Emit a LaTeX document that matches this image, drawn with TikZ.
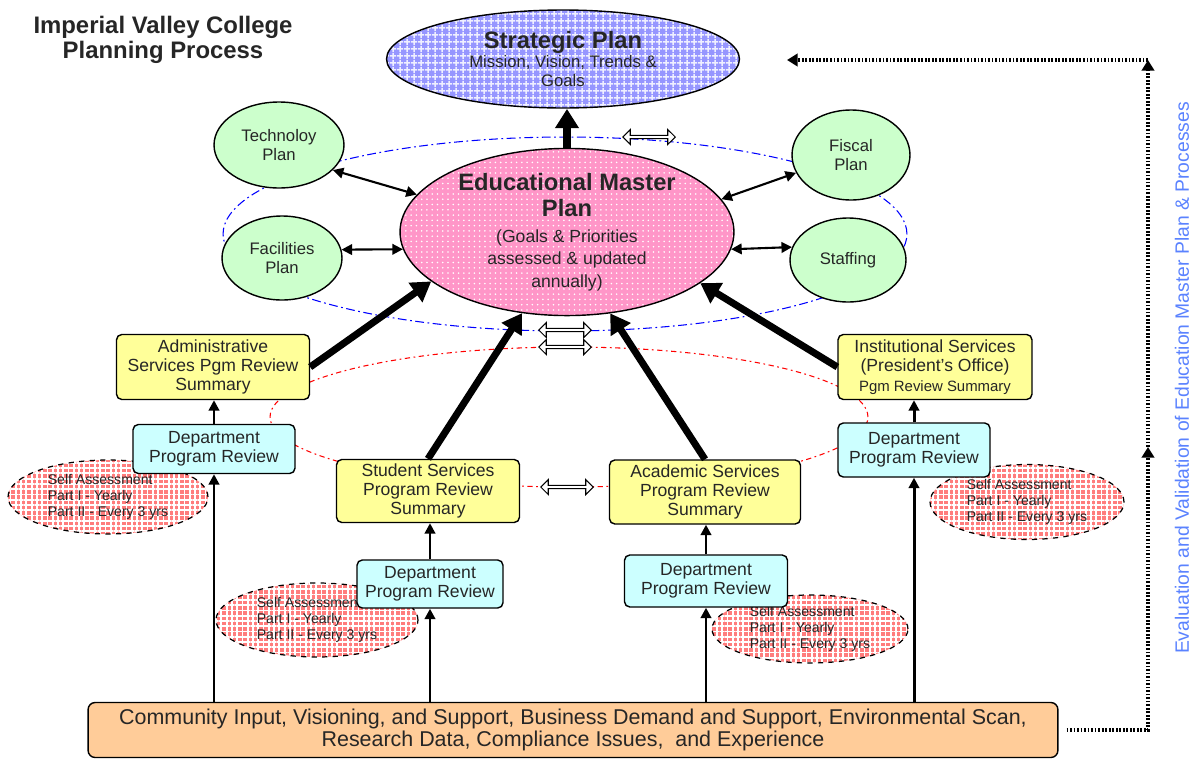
\documentclass[tikz,border=0pt]{standalone}
\usepackage{fontspec}
\setmainfont{Liberation Sans}
\usetikzlibrary{shapes.geometric,shapes.arrows,arrows.meta,patterns.meta}

\definecolor{stratblue}{RGB}{150,150,255}
\definecolor{masterpink}{RGB}{255,150,200}
\definecolor{plangreen}{RGB}{204,255,204}
\definecolor{sumyellow}{RGB}{255,255,153}
\definecolor{deptcyan}{RGB}{204,255,255}
\definecolor{selfred}{RGB}{255,125,125}
\definecolor{baseorange}{RGB}{255,204,153}
\definecolor{evalblue}{RGB}{90,130,255}

\newcommand{\fs}[2]{\fontsize{#1}{#2}\selectfont}

\begin{document}
\begin{tikzpicture}[x=0.02cm,y=-0.02cm,
  every node/.style={text=black!85},
  plan/.style={ellipse, draw, line width=0.8pt, fill=plangreen, inner sep=0pt, align=center, font=\fs{9.5}{10.5}},
  sumbox/.style={rectangle, rounded corners=3pt, draw, line width=0.8pt, fill=sumyellow, inner sep=0pt, align=center, font=\fs{10}{11}},
  deptbox/.style={sumbox, fill=deptcyan},
  selfassess/.style={ellipse, draw, dashed, line width=0.7pt, preaction={fill=selfred}, pattern={Hatch[angle=0,distance=3pt,line width=1pt]}, pattern color=white, inner sep=0pt, align=left, font=\fs{8}{9}},
  hollow/.style={double arrow, draw, fill=white, line width=0.6pt, minimum height=1.05cm, minimum width=0.3cm, double arrow head extend=0.04cm, inner sep=0pt},
  bigarrow/.style={line width=4pt, -{Triangle[length=11pt,width=13pt]}},
  link/.style={line width=1.2pt, {Triangle[length=6pt,width=6pt]}-{Triangle[length=6pt,width=6pt]}},
  feed/.style={line width=1.7pt, -{Triangle[length=6pt,width=6pt]}},
  fback/.style={line width=2pt, dash pattern=on 1pt off 1pt, -{Triangle[length=6pt,width=7pt]}}]

\useasboundingbox (0,0) rectangle (1191,758);

\draw[blue, line width=0.6pt, dash pattern=on 5pt off 2pt on 1pt off 2pt] (565,234) ellipse [x radius=6.84cm, y radius=1.94cm];
\draw[red, line width=0.6pt, dash pattern=on 3pt off 2pt on 1pt off 2pt] (569,417) ellipse [x radius=5.98cm, y radius=1.4cm];

\node[font=\fs{13.6}{14.2}\bfseries, align=center] (title) at (163,40) {Imperial Valley College\\Planning Process};

\node[ellipse, draw, line width=0.8pt, preaction={fill=stratblue}, pattern={Hatch[angle=0,distance=4pt,line width=1pt]}, pattern color=white!85!stratblue, minimum width=7.06cm, minimum height=1.96cm, inner sep=0pt, align=center, font=\fs{9.5}{11}] (strat) at (563,59) {{\fs{13.5}{15}\bfseries Strategic Plan}\\Mission, Vision, Trends \&\\Goals};

\node[ellipse, draw, line width=0.8pt, preaction={fill=masterpink}, pattern={Dots[distance=3pt,radius=0.5pt]}, pattern color=white, minimum width=6.68cm, minimum height=3.32cm, inner sep=0pt, align=center, font=\fs{10}{12.8}] (emp) at (567,232) {{\fs{13.5}{15}\bfseries Educational Master}\\[2.5pt]{\fs{13.5}{15}\bfseries Plan}\\[1.7pt](Goals \& Priorities\\assessed \& updated\\annually)};

\node[plan, minimum width=2.6cm, minimum height=1.72cm] (tech) at (279,145) {Technoloy\\Plan};
\node[plan, minimum width=2.4cm, minimum height=1.68cm] (fac) at (282,258) {Facilities\\Plan};
\node[plan, minimum width=2.36cm, minimum height=1.8cm] (fisc) at (851,155) {Fiscal\\Plan};
\node[plan, minimum width=2.32cm, minimum height=1.68cm] (staff) at (848,260) {Staffing};

\node[hollow] (hw1) at (649,137) {};
\node[hollow] (hw2) at (565,330) {};
\node[hollow] (hw3) at (565,347) {};
\node[hollow] (hw4) at (567,487) {};

\node[sumbox, minimum width=3.86cm, minimum height=1.3cm] (admin) at (213,367) {Administrative\\Services Pgm Review\\Summary};
\node[sumbox, minimum width=3.66cm, minimum height=1.26cm] (student) at (428,491) {Student Services\\Program Review\\Summary};
\node[sumbox, minimum width=3.82cm, minimum height=1.28cm] (academic) at (705,492) {Academic Services\\Program Review\\Summary};
\node[sumbox, minimum width=3.88cm, minimum height=1.3cm] (inst) at (935,367) {Institutional Services\\(President's Office)\\{\fs{8.5}{10}Pgm Review Summary}};

\node[selfassess, minimum width=4cm, minimum height=1.48cm] (sa1) at (108,497) {Self Assessment\\Part I - Yearly\\Part II - Every 3 yrs};
\node[selfassess, minimum width=4.04cm, minimum height=1.48cm] (sa2) at (317,620) {Self Assessment\\Part I - Yearly\\Part II - Every 3 yrs};
\node[selfassess, minimum width=3.92cm, minimum height=1.36cm] (sa3) at (810,629) {Self Assessment\\Part I - Yearly\\Part II - Every 3 yrs};
\node[selfassess, minimum width=3.88cm, minimum height=1.5cm] (sa4) at (1027,502) {Self Assessment\\Part I - Yearly\\Part II - Every 3 yrs};

\node[deptbox, minimum width=3.24cm, minimum height=0.98cm] (dept1) at (214,449) {Department\\Program Review};
\node[deptbox, minimum width=2.92cm, minimum height=0.96cm] (dept2) at (430,584) {Department\\Program Review};
\node[deptbox, minimum width=3.26cm, minimum height=1.04cm] (dept3) at (706,581) {Department\\Program Review};
\node[deptbox, minimum width=3.04cm, minimum height=1.08cm] (dept4) at (914,450) {Department\\Program Review};

\node[rectangle, rounded corners=4pt, draw, line width=0.8pt, fill=baseorange, minimum width=19.4cm, minimum height=1.1cm, inner sep=0pt, align=center, font=\fs{12.2}{13}] (base) at (573,730) {Community Input, Visioning, and Support, Business Demand and Support, Environmental Scan,\\Research Data, Compliance Issues,\ \ and Experience};

\node[rotate=90, text=evalblue, font=\fs{11}{12}] (evaltxt) at (1182,378) {Evaluation and Validation of Education Master Plan \& Processes};

\draw[bigarrow] (emp.north) -- (emp.north |- strat.south);
\draw[bigarrow] (admin.east) -- (emp.200);
\draw[bigarrow] (student.north) -- (emp.241);
\draw[bigarrow] (academic.north) -- (emp.298);
\draw[bigarrow] (inst.west) -- (emp.339);

\draw[link] (tech.335) -- (emp.166);
\draw[link] (fac.8) -- (emp.186);
\draw[link] (fisc.198) -- (emp.12);
\draw[link] (staff.167) -- (emp.354);

\draw[feed] (dept1.north) -- (dept1.north |- admin.south);
\draw[feed] (dept2.north) -- (dept2.north |- student.south);
\draw[feed] (dept3.north) -- (dept3.north |- academic.south);
\draw[feed] (dept4.north) -- (dept4.north |- inst.south);

\draw[feed] (dept1.south |- base.north) -- (dept1.south);
\draw[feed] (dept2.south |- base.north) -- (dept2.south);
\draw[feed] (dept3.south |- base.north) -- (dept3.south);
\draw[feed] (dept4.south |- base.north) -- (dept4.south);

\coordinate (fbS) at ([xshift=0.16cm]base.east);
\coordinate (fbR) at (1148,730);
\coordinate (fbM) at (1148,447);
\coordinate (fbT) at (1148,60);
\coordinate (fbE) at (787,60);

\draw[fback] (fbS) -- (fbR) -- (fbM);
\draw[fback] (fbM) -- (fbT);
\draw[fback] (fbT) -- (fbE);

\end{tikzpicture}
\end{document}
